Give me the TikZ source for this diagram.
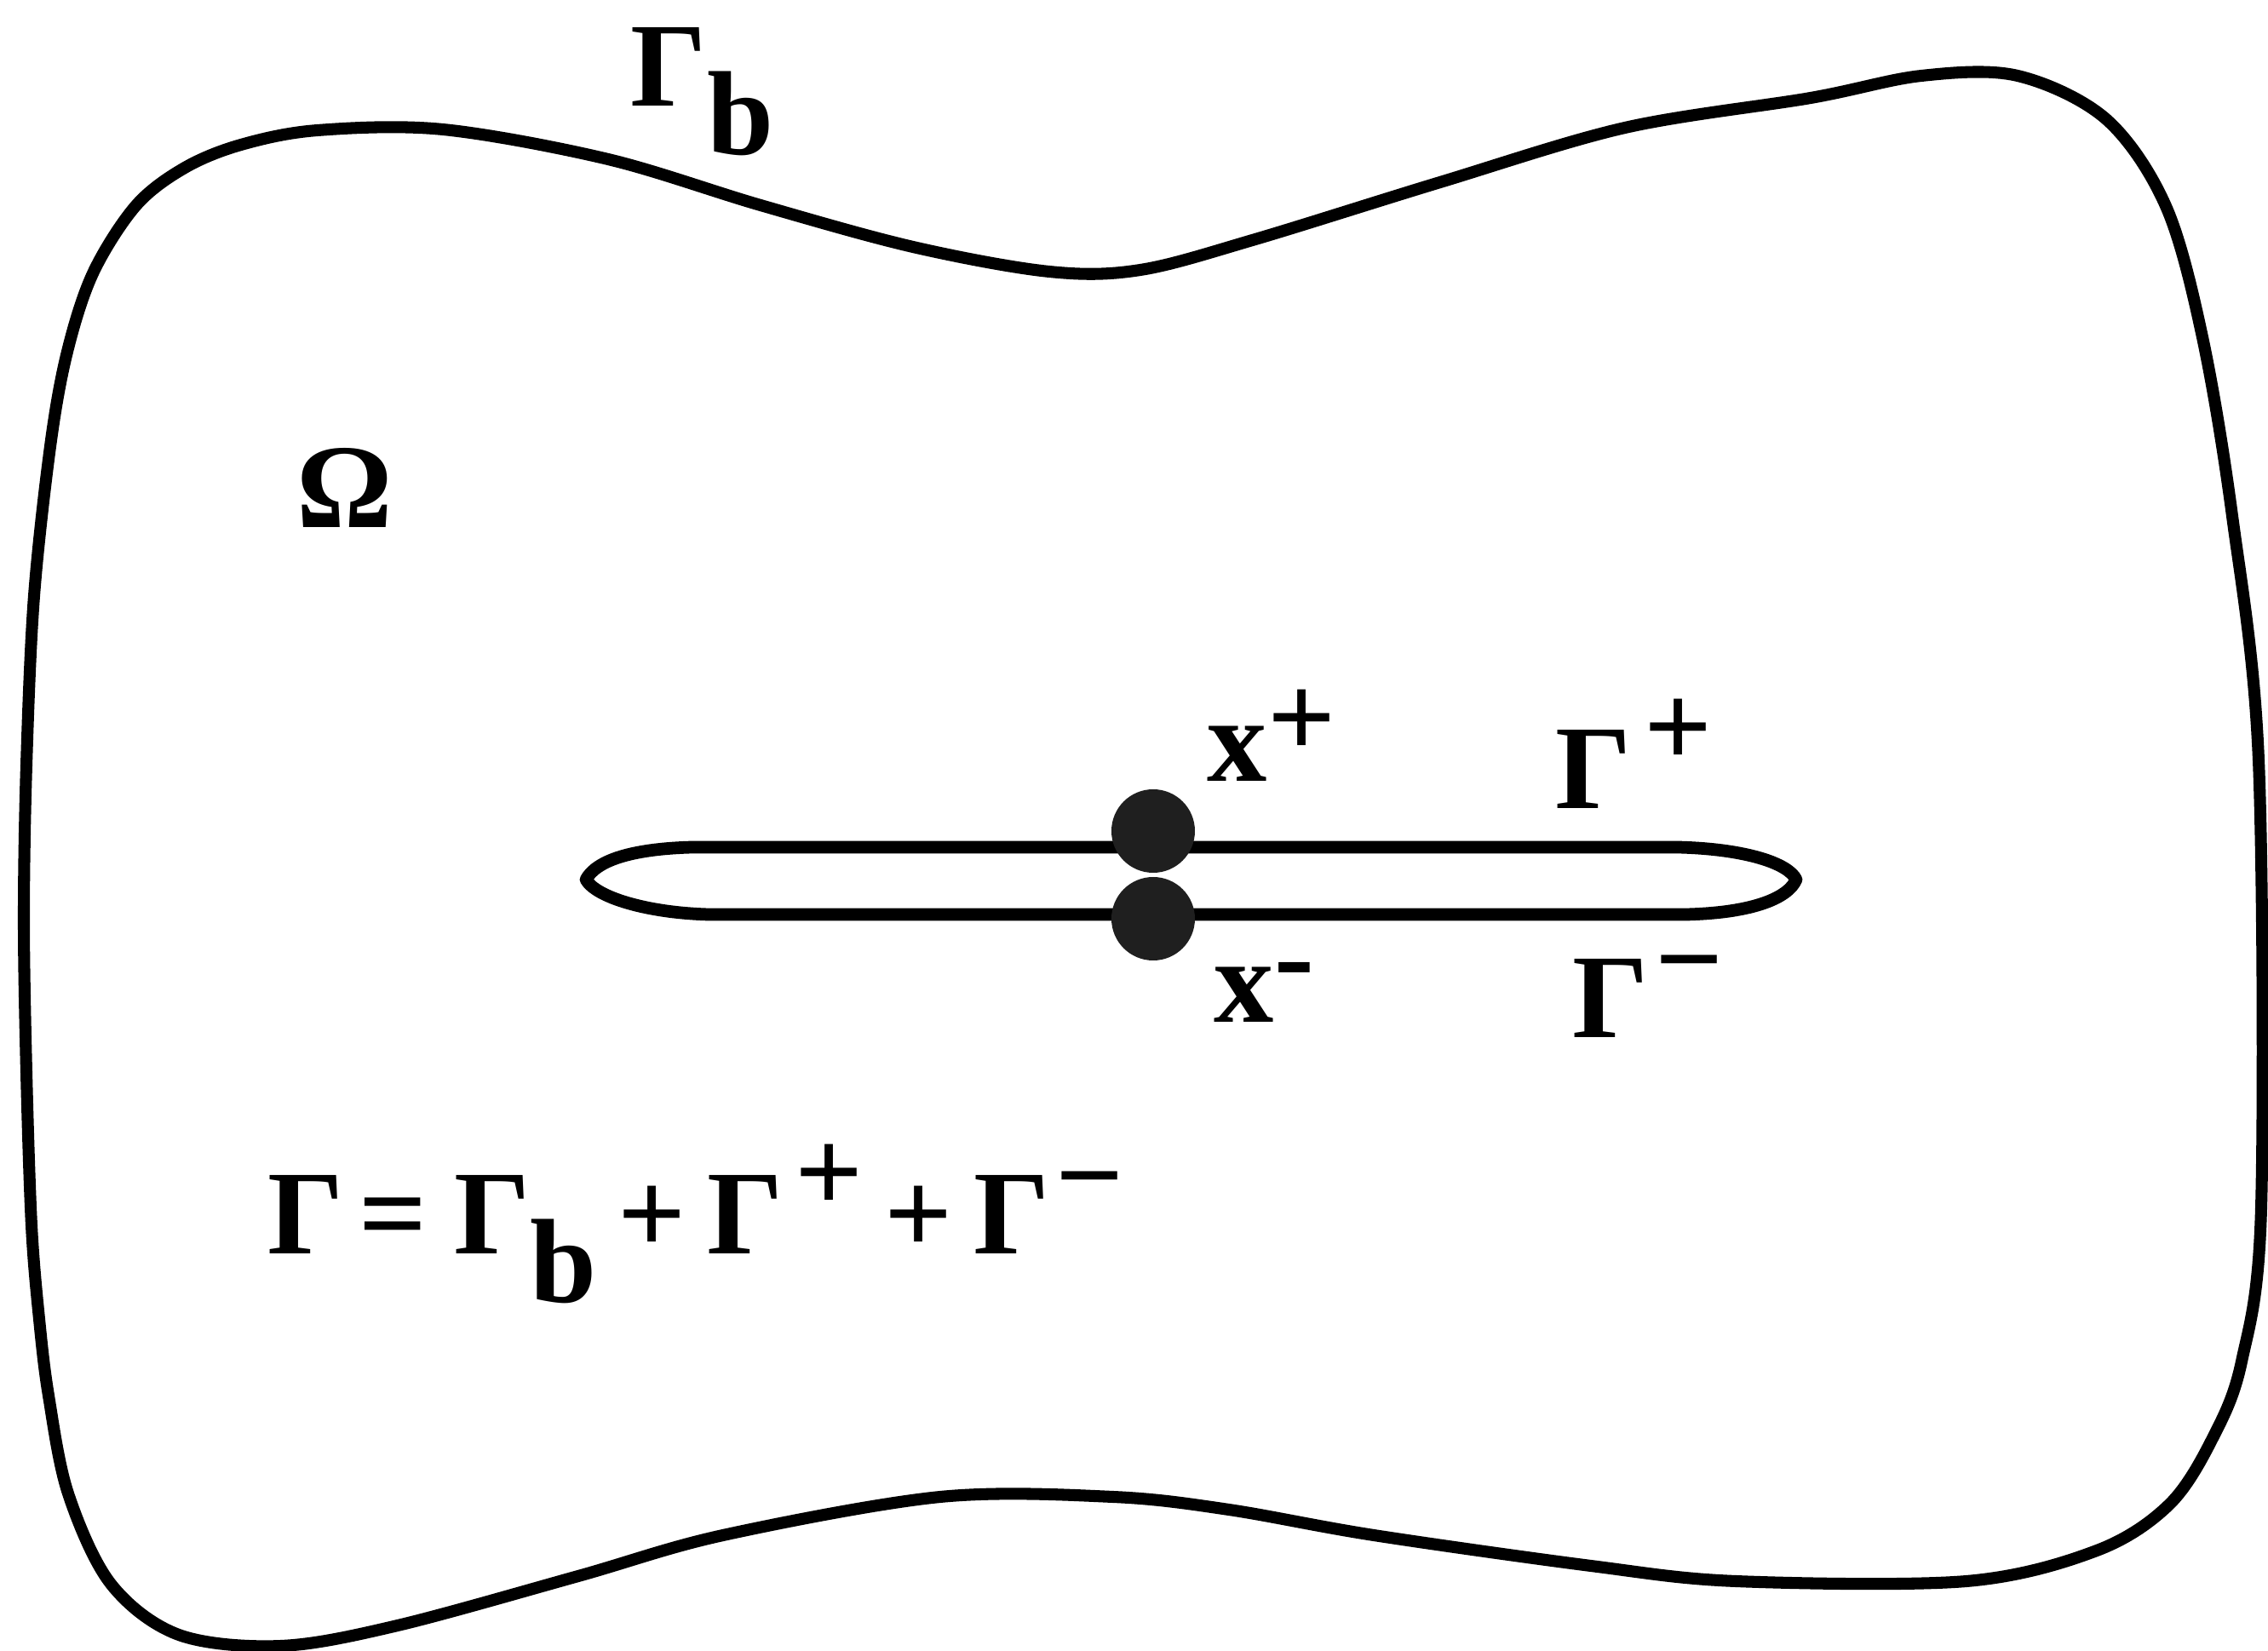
\documentclass[tikz,border=0pt]{standalone}
\usepackage{fontspec}
\setmainfont{Liberation Serif}
\usetikzlibrary{positioning}

\newcommand{\lowidx}[1]{\raisebox{-16pt}{#1}}
\newcommand{\hiidx}[2][14pt]{\raisebox{#1}{#2}}

\begin{document}
\begin{tikzpicture}[
    font = \fontsize{40}{44}\selectfont\bfseries,
    boundary/.style={
      line width = 4pt,
      line join = round,
    },
    crack/.style={
      line width = 4.2pt,
      line join = round,
    },
    tip/.style={
      circle,
      fill = black!88,
      inner sep = 0pt,
      minimum size = 0.98cm,
    },
    lbl/.style={
      anchor = base west,
      inner sep = 0pt,
    },
  ]
  \useasboundingbox (0,0) rectangle (26.63,19.39);
  % outer boundary
  \draw[boundary] plot[smooth cycle, tension = 0.55] coordinates {
    (0.40,12.39) (0.60,14.22) (0.80,15.30) (1.10,16.20)
    (1.60,16.98) (2.17,17.42) (2.83,17.69) (3.73,17.86) (5.20,17.87)
    (7.14,17.52) (8.93,16.98) (10.72,16.49) (12.32,16.20) (13.39,16.22)
    (14.74,16.58) (16.91,17.25) (19.08,17.89) (21.26,18.24) (22.56,18.50)
    (23.69,18.50) (24.73,17.99) (25.43,16.97) (25.86,15.43) (26.21,13.33)
    (26.52,10.46) (26.55,5.20) (26.32,3.40) (25.98,2.50) (25.47,1.72)
    (24.62,1.18) (23.09,0.82) (20.38,0.82) (18.68,1.00) (16.13,1.36)
    (14.43,1.66) (13.07,1.81) (11.04,1.81) (8.49,1.36) (6.79,0.88)
    (4.67,0.30) (3.30,0.06) (2.10,0.19) (1.30,0.79) (0.80,1.85)
    (0.57,3.00) (0.46,3.90) (0.37,5.00) (0.31,6.80) (0.28,8.60)
    (0.31,10.40)
  };
  % crack faces
  \draw[crack] (8.13,9.44) -- (19.70,9.44)
    .. controls (20.5,9.42) and (21.0,9.25) .. (21.09,9.06)
    .. controls (21.0,8.85) and (20.6,8.67) .. (19.80,8.65)
    -- (8.32,8.65)
    .. controls (7.6,8.67) and (7.0,8.85) .. (6.88,9.06)
    .. controls (7.0,9.28) and (7.4,9.42) .. cycle;
  \node[tip] (xp) at (13.54,9.63) {};
  \node[tip] (xm) at (13.54,8.60) {};
  % labels
  \node[lbl] (gb) at (7.40,18.14) {Γ\lowidx{b}};
  \node[lbl] (om) at (3.48,13.19) {Ω};
  \node[lbl] (xplbl) at (14.17,10.21) {x\hiidx[8pt]{+}};
  \node[lbl] (gplus) at (18.26,9.89) {Γ\hspace{4pt}\hiidx{+}};
  \node[lbl] (xmlbl) at (14.25,7.38) {x\hiidx[9pt]{-}};
  \node[lbl] (gminus) at (18.46,7.20) {Γ\hspace{2pt}\hiidx[13pt]{−}};
  \node[lbl] (eq) at (3.14,4.66)
    {Γ\hspace{5pt}=\hspace{9pt}Γ\lowidx{b}\hspace{7pt}+\hspace{7pt}Γ\hspace{4pt}\hiidx{+}\hspace{7pt}+\hspace{7pt}Γ\hspace{2pt}\hiidx[13pt]{−}};
\end{tikzpicture}
\end{document}
